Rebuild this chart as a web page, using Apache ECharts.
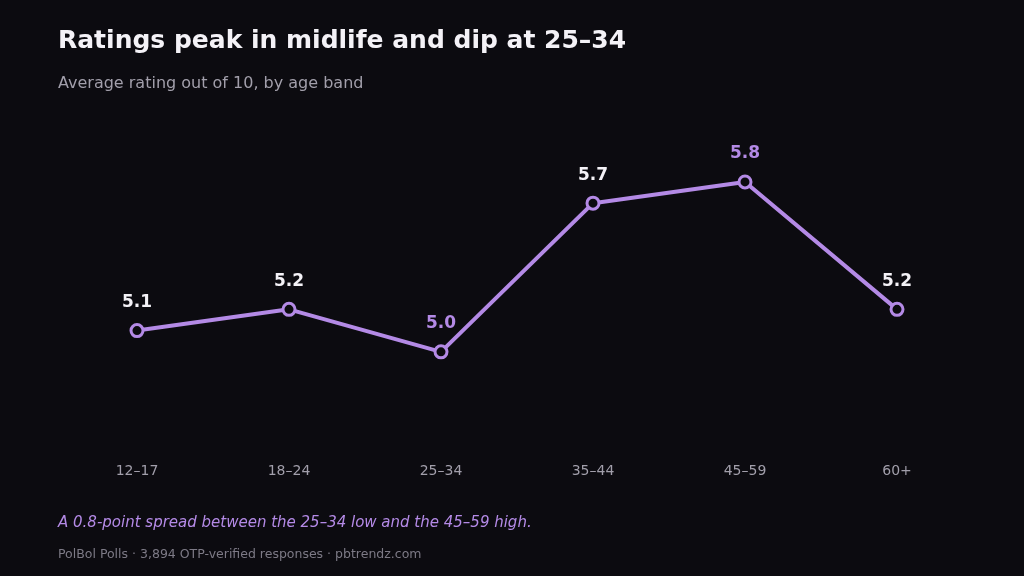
<!DOCTYPE html>
<html>
<head>
<meta charset="utf-8">
<script src="https://cdn.jsdelivr.net/npm/echarts@6/dist/echarts.min.js"></script>
<style>
  html, body { margin: 0; padding: 0; background: #0c0b10; }
  #chart { width: 1024px; height: 576px; }
</style>
</head>
<body>
<div id="chart"></div>
<script>
const ageBands = ['12–17', '18–24', '25–34', '35–44', '45–59', '60+'];
const ratings = [5.1, 5.2, 5.0, 5.7, 5.8, 5.2];
const highlightBands = ['25–34', '45–59'];

const accent = '#b48ae6';
const font = '"DejaVu Sans", sans-serif';

let myChart = echarts.init(document.getElementById('chart'));

let points = ratings.map(function (v, i) {
    let hot = highlightBands.indexOf(ageBands[i]) >= 0;
    return {
        value: v,
        label: { color: hot ? accent : '#f4f2f7' }
    };
});

let option = {
    backgroundColor: '#0c0b10',
    animation: false,
    title: [
        {
            text: 'Ratings peak in midlife and dip at 25–34',
            left: 53, top: 24,
            textStyle: { color: '#f4f2f7', fontSize: 25, fontWeight: 'bold', fontFamily: font }
        },
        {
            text: 'Average rating out of 10, by age band',
            left: 53, top: 71,
            textStyle: { color: '#a29fab', fontSize: 16, fontWeight: 'normal', fontFamily: font }
        },
        {
            text: 'A 0.8-point spread between the 25–34 low and the 45–59 high.',
            left: 53, top: 511,
            textStyle: { color: accent, fontSize: 15, fontStyle: 'italic', fontWeight: 'normal', fontFamily: font }
        },
        {
            text: 'PolBol Polls · 3,894 OTP-verified responses · pbtrendz.com',
            left: 53, top: 543,
            textStyle: { color: '#7d7a86', fontSize: 12.5, fontWeight: 'normal', fontFamily: font }
        }
    ],
    grid: { left: 61, right: 51, top: 97, bottom: 118 },
    xAxis: {
        type: 'category',
        data: ageBands,
        boundaryGap: true,
        axisLine: { show: false },
        axisTick: { show: false },
        axisLabel: { color: '#a29fab', fontSize: 14, margin: 6, fontFamily: font }
    },
    yAxis: {
        type: 'value',
        min: 4.5,
        max: 6.2,
        show: false,
        splitLine: { show: false }
    },
    series: [{
        type: 'line',
        data: points,
        symbol: 'circle',
        symbolSize: 12,
        itemStyle: { color: '#0c0b10', borderColor: accent, borderWidth: 3 },
        lineStyle: { color: accent, width: 4 },
        label: {
            show: true,
            position: 'top',
            distance: 12,
            formatter: function (p) { return p.value.toFixed(1); },
            fontSize: 17,
            fontWeight: 'bold',
            fontFamily: font
        }
    }]
};
myChart.setOption(option);
window.onresize = function () {
    myChart.resize();
};
</script>
</body>
</html>
